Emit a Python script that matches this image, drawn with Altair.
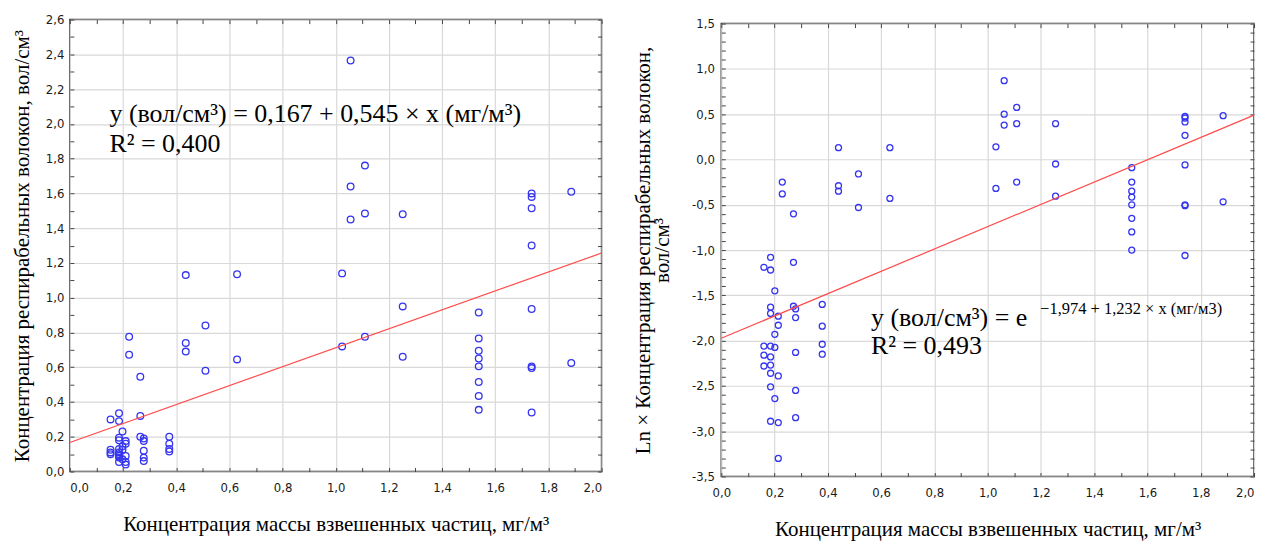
import altair as alt
import pandas as pd

# ---------------- data ----------------
left_x = [
    0.153, 0.153, 0.153, 0.153,
    0.185, 0.185, 0.185, 0.185, 0.185, 0.185, 0.185, 0.185, 0.185, 0.185,
    0.198, 0.198, 0.198, 0.198,
    0.21, 0.21, 0.21, 0.21, 0.21,
    0.223, 0.223,
    0.265, 0.265, 0.265,
    0.278, 0.278, 0.278, 0.278, 0.278,
    0.374, 0.374, 0.374, 0.374,
    0.436, 0.436, 0.436,
    0.51, 0.51,
    0.629, 0.629,
    1.024, 1.024,
    1.056, 1.056, 1.056,
    1.11, 1.11, 1.11,
    1.252, 1.252, 1.252,
    1.538, 1.538, 1.538, 1.538, 1.538, 1.538, 1.538, 1.538,
    1.737, 1.737, 1.737, 1.737, 1.737, 1.737, 1.737, 1.737,
    1.886, 1.886,
]
left_y = [
    0.30, 0.125, 0.11, 0.10,
    0.335, 0.29, 0.195, 0.18, 0.13, 0.11, 0.10, 0.09, 0.08, 0.055,
    0.23, 0.145, 0.125, 0.07,
    0.175, 0.16, 0.09, 0.055, 0.04,
    0.775, 0.672,
    0.545, 0.32, 0.20,
    0.19, 0.175, 0.12, 0.08, 0.06,
    0.20, 0.16, 0.13, 0.115,
    1.13, 0.74, 0.69,
    0.84, 0.58,
    1.135, 0.645,
    1.14, 0.72,
    2.365, 1.64, 1.45,
    1.76, 1.485, 0.775,
    1.48, 0.95, 0.66,
    0.915, 0.765, 0.695, 0.65, 0.605, 0.515, 0.435, 0.355,
    1.60, 1.58, 1.515, 1.30, 0.935, 0.605, 0.595, 0.34,
    1.61, 0.625,
]

right_x = [
    0.16, 0.16, 0.16, 0.16,
    0.185, 0.185, 0.185, 0.185, 0.185, 0.185, 0.185, 0.185, 0.185, 0.185,
    0.201, 0.201, 0.201, 0.201,
    0.214, 0.214, 0.214, 0.214, 0.214,
    0.229, 0.229,
    0.271, 0.271, 0.271,
    0.279, 0.279, 0.279, 0.279, 0.279,
    0.379, 0.379, 0.379, 0.379,
    0.44, 0.44, 0.44,
    0.515, 0.515,
    0.633, 0.633,
    1.031, 1.031,
    1.062, 1.062, 1.062,
    1.109, 1.109, 1.109,
    1.255, 1.255, 1.255,
    1.541, 1.541, 1.541, 1.541, 1.541, 1.541, 1.541, 1.541,
    1.741, 1.741, 1.741, 1.741, 1.741, 1.741, 1.741, 1.741,
    1.884, 1.884,
]
right_y = [
    -1.19, -2.06, -2.16, -2.28,
    -1.08, -1.22, -1.63, -1.70, -2.06, -2.18, -2.27, -2.36, -2.51, -2.89,
    -1.45, -1.93, -2.075, -2.64,
    -1.73, -1.83, -2.39, -2.905, -3.30,
    -0.25, -0.38,
    -0.60, -1.135, -1.62,
    -1.65, -1.745, -2.13, -2.55, -2.85,
    -1.60, -1.84, -2.04, -2.15,
    0.13, -0.29, -0.35,
    -0.16, -0.53,
    0.13, -0.43,
    0.14, -0.32,
    0.87, 0.50, 0.38,
    0.575, 0.395, -0.25,
    0.395, -0.05, -0.405,
    -0.09, -0.25, -0.35, -0.415, -0.50, -0.65, -0.80, -1.00,
    0.476, 0.458, 0.414, 0.267, -0.06, -0.50, -0.51, -1.06,
    0.484, -0.467,
]

# regression coefficients (intercept, slope) as printed on the chart
left_coef = [0.167, 0.545]
right_coef = [-1.974, 1.232]

# axis ticks (every 0.1)
x_ticks = [round(i * 0.1, 1) for i in range(0, 21)]
left_y_ticks = [round(i * 0.1, 1) for i in range(0, 27)]
right_y_ticks = [round(-3.5 + i * 0.1, 1) for i in range(0, 51)]

x_title = "Концентрация массы взвешенных частиц, мг/м³"
left_y_title = "Концентрация респирабельных волокон, вол/см³"
right_y_title = ["Ln × Концентрация респирабельных волокон,", "вол/см³"]

left_eq = "y (вол/см³) = 0,167 + 0,545 × x (мг/м³)"
left_r2 = "R² = 0,400"
right_eq = "y (вол/см³) = e"
right_exp = "−1,974 + 1,232 × x (мг/м3)"
right_r2 = "R² = 0,493"

LABEL_FONT = "Liberation Sans Narrow, DejaVu Sans Condensed, sans-serif"
SERIF = "Liberation Serif"
PT_COLOR = "#3535f0"
LINE_COLOR = "#ff4a4a"

X_TEST = "round(datum.value * 10) % 2 == 0"
LY_TEST = "round(datum.value * 10) % 2 == 0"
RY_TEST = "round(datum.value * 10) % 5 == 0"


def num_label(test):
    return ("(" + test + ") ? replace(replace(format(datum.value, '.1f'), '.', ','), '\u2212', '-') : ''")


def cond(test, a, b):
    return {"condition": {"test": test, "value": a}, "value": b}


def panel(px, py, coef, y_dom, y_ticks, y_test, y_title, w, h, pt_size,
          texts, last_right, y_title_pad, y_label_pad, x_title_pad):
    x_dom = [0.0, 2.0]
    pts = pd.DataFrame({"x": px, "y": py})
    line = pd.DataFrame({"x": x_dom, "y": [coef[0] + coef[1] * v for v in x_dom]})
    xs = alt.Scale(domain=x_dom, nice=False, zero=False)
    ys = alt.Scale(domain=y_dom, nice=False, zero=False)

    x_axis_kw = dict(
        values=x_ticks, labelExpr=num_label(X_TEST), labelOverlap=False,
        grid=True, gridOpacity=cond(X_TEST, 1, 0), ticks=True, tickSize=4,
        offset=-4, labelPadding=10, title=x_title, titlePadding=x_title_pad,
    )
    if last_right:
        x_axis_kw["labelAlign"] = cond("datum.value > 1.95", "right", "center")
    main_x = alt.Axis(**x_axis_kw)
    main_y = alt.Axis(
        values=y_ticks, labelExpr=num_label(y_test), labelOverlap=False,
        grid=True, gridOpacity=cond(y_test, 1, 0), ticks=True, tickSize=4,
        offset=-4, labelPadding=y_label_pad, title=y_title, minExtent=0,
        titlePadding=y_title_pad, titleLineHeight=19,
    )
    top_x = alt.Axis(orient="top", values=x_ticks, labels=False, grid=False, minExtent=0,
                     ticks=True, tickSize=4, offset=-4, title=None, domain=False)
    right_y = alt.Axis(orient="right", values=y_ticks, labels=False, grid=False, minExtent=0,
                       ticks=True, tickSize=4, offset=-4, title=None, domain=False)

    points = alt.Chart(pts).mark_point(
        shape="circle", filled=False, color=PT_COLOR, strokeWidth=1.3, size=pt_size, opacity=1
    ).encode(
        x=alt.X("x:Q", scale=xs, axis=main_x),
        y=alt.Y("y:Q", scale=ys, axis=main_y),
    )
    reg = alt.Chart(line).mark_line(color=LINE_COLOR, strokeWidth=1.2).encode(
        x=alt.X("x:Q", scale=xs, axis=top_x),
        y=alt.Y("y:Q", scale=ys, axis=right_y),
    )
    layers = [points, reg]
    for (tx, ty, txt, fs) in texts:
        tdf = pd.DataFrame({"x": [tx], "y": [ty], "t": [txt]})
        layers.append(
            alt.Chart(tdf).mark_text(
                align="left", baseline="alphabetic", font=SERIF, fontSize=fs, color="#000000"
            ).encode(
                x=alt.X("x:Q", scale=xs, axis=None),
                y=alt.Y("y:Q", scale=ys, axis=None),
                text="t:N",
            )
        )
    return alt.layer(*layers).resolve_axis(x="independent", y="independent").properties(
        width=w, height=h
    )


left = panel(
    left_x, left_y, left_coef, [0.0, 2.6], left_y_ticks, LY_TEST, left_y_title,
    533, 453, 45,
    [(0.149, 2.011, left_eq, 26), (0.149, 1.839, left_r2, 26)],
    False, 13, 6, 19,
)
right = panel(
    right_x, right_y, right_coef, [-3.5, 1.5], right_y_ticks, RY_TEST, right_y_title,
    534, 454, 36,
    [(0.562, -1.84, right_eq, 26), (0.562, -2.149, right_r2, 26), (1.197, -1.708, right_exp, 16.5)],
    True, 19, 7, 19,
)

# invisible spacer that drops the right panel a few pixels, as in the original
spacer = alt.Chart(pd.DataFrame({"v": [0]})).mark_point(opacity=0).encode(
    x=alt.value(0), y=alt.value(0)
).properties(width=10, height=1, view=alt.ViewBackground(strokeOpacity=0))

chart = alt.hconcat(
    left, alt.vconcat(spacer, right, spacing=3, bounds="flush"), spacing=26
).properties(
    padding={"left": 2, "top": 4, "right": 0, "bottom": 0}
).configure_view(
    stroke="#333333", strokeWidth=1.5
).configure_axis(
    labelFont=LABEL_FONT, labelFontSize=13, labelColor="#1a1a1a",
    titleFont=SERIF, titleFontSize=21, titleFontWeight="normal", titleColor="#000000",
    gridColor="#d9d9d9", gridWidth=1.2, tickColor="#444444", tickWidth=1, domain=False,
)

chart.save("out.html", embed_options={"renderer": "svg", "actions": False})
